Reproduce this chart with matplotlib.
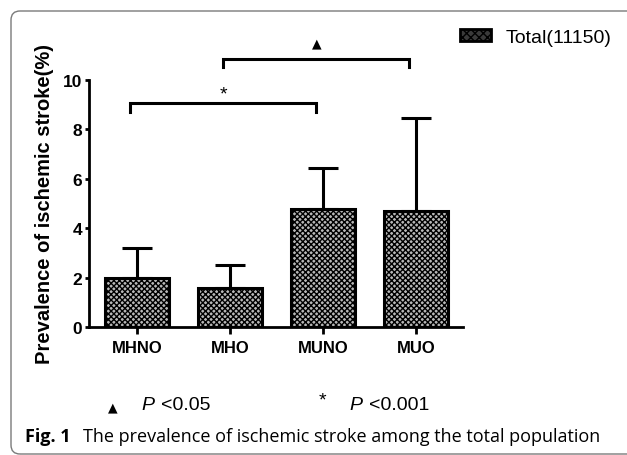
import matplotlib.pyplot as plt
from matplotlib.patches import FancyBboxPatch, Patch
from matplotlib.transforms import IdentityTransform

groups = ["MHNO", "MHO", "MUNO", "MUO"]
prevalence = [1.98, 1.58, 4.78, 4.70]
upper_err = [1.22, 0.93, 1.66, 3.76]
legend_label = "Total(11150)"

# significance brackets: (left group, right group, height, symbol)
brackets = [(0, 2, 9.05, "*"), (1, 3, 10.85, "\u25B2")]

plt.rcParams["hatch.color"] = "#262626"

fig = plt.figure(figsize=(6.27, 4.56), dpi=100)

# rounded frame around the panel (pixel coords)
frame = FancyBboxPatch((11, 1), 640, 443, boxstyle="round,pad=0,rounding_size=9",
                       transform=IdentityTransform(), fill=False, edgecolor="#7a7a7a",
                       linewidth=1.0)
fig.patches.append(frame)

ax = fig.add_axes([0.1419, 0.2807, 0.5965, 0.5417])
x = list(range(len(groups)))
ax.bar(x, prevalence, width=0.68, color="#b8b8b8", edgecolor="black",
       linewidth=2.2, hatch="xxxxxx", zorder=2)
ax.errorbar(x, prevalence, yerr=[[0] * len(x), upper_err], fmt="none", ecolor="black",
            elinewidth=2.2, capsize=10.5, capthick=2.2, zorder=1)

ax.set_xlim(-0.516, 3.505)
ax.set_ylim(0, 10)
ax.set_yticks([0, 2, 4, 6, 8, 10])
ax.set_xticks(x)
ax.set_xticklabels(groups)
for s in ["top", "right"]:
    ax.spines[s].set_visible(False)
for s in ["left", "bottom"]:
    ax.spines[s].set_linewidth(2.0)
ax.tick_params(axis="y", width=2.0, length=3, pad=2, labelsize=12.5)
ax.tick_params(axis="x", width=2.0, length=5, pad=4, labelsize=12)
for lab in ax.get_xticklabels() + ax.get_yticklabels():
    lab.set_fontweight("bold")
    lab.set_family("Liberation Sans")
ax.set_ylabel("Prevalence of ischemic stroke(%)", fontsize=14.5, fontweight="bold",
              family="Liberation Sans", labelpad=6)

shift = -0.07
for left, right, h, sym in brackets:
    ax.plot([left + shift, left + shift, right + shift, right + shift],
            [h - 0.33, h, h, h - 0.33], color="black", linewidth=2.2, clip_on=False,
            solid_joinstyle="miter")
    if sym == "*":
        ax.text((left + right) / 2 + shift, h + 0.05, sym, ha="center", va="bottom",
                fontsize=14, family="Liberation Sans", clip_on=False)
    else:
        ax.text((left + right) / 2 + shift, h + 0.38, sym, ha="center", va="bottom",
                fontsize=9, family="DejaVu Sans", clip_on=False)

# legend swatch looks darker than the bars in the original
swatch = Patch(facecolor="#3a3a3a", edgecolor="black", linewidth=2.0, hatch="xxxx",
               label=legend_label)
fig.legend(handles=[swatch], loc="center left", bbox_to_anchor=(0.722, 0.916),
           frameon=False, handlelength=1.55, handleheight=0.55, handletextpad=0.75,
           borderaxespad=0, prop={"family": "Liberation Sans", "size": 14})

ptxt = dict(fontsize=14, ha="left", va="center", family="Liberation Sans")
fig.text(0.180, 0.105, "\u25B2", fontsize=9, ha="center", va="center")
fig.text(0.226, 0.110, "P", style="italic", **ptxt)
fig.text(0.256, 0.110, "<0.05", **ptxt)
fig.text(0.514, 0.120, "*", fontsize=14, ha="center", va="center", family="Liberation Sans")
fig.text(0.558, 0.110, "P", style="italic", **ptxt)
fig.text(0.588, 0.110, "<0.001", **ptxt)

fig.text(0.040, 0.042, "Fig. 1", fontsize=13, fontweight="bold", ha="left", va="center",
         family="Open Sans")
fig.text(0.132, 0.042, "The prevalence of ischemic stroke among the total population",
         fontsize=13, ha="left", va="center", family="Open Sans")

fig.savefig("out.png", dpi=100)
